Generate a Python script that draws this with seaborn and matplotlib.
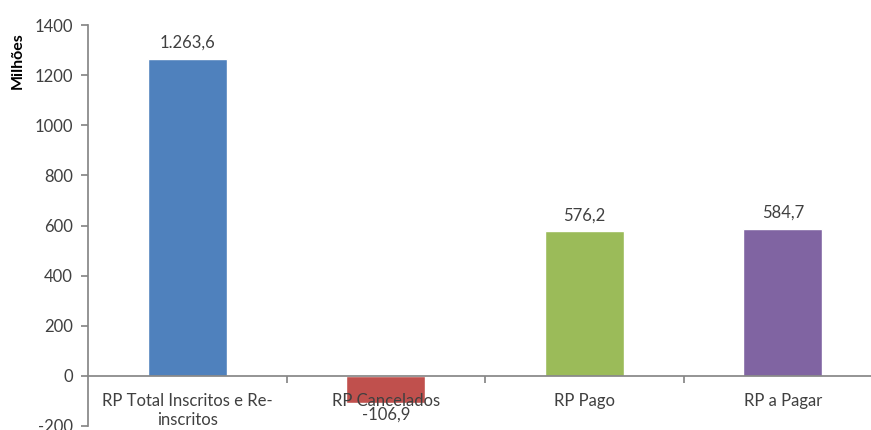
import matplotlib
matplotlib.use("Agg")
import matplotlib.pyplot as plt
import seaborn as sns
import pandas as pd

categories = ["RP Total Inscritos e Re-\ninscritos", "RP Cancelados", "RP Pago", "RP a Pagar"]
values = [1263.6, -106.9, 576.2, 584.7]
colors = ["#4F81BD", "#C0504D", "#9BBB59", "#8064A2"]
yticks = [-200, 0, 200, 400, 600, 800, 1000, 1200, 1400]

sns.set_theme(style="white")
plt.rcParams["font.family"] = ["Lato", "DejaVu Sans"]
text_color = "#404040"
axis_color = "#868686"
fs = 12

df = pd.DataFrame({"categoria": categories, "valor": values})

fig = plt.figure(figsize=(8.71, 4.30), dpi=100)
ax = fig.add_axes([88 / 871, 4 / 430, 794 / 871, 401 / 430])

sns.barplot(data=df, x="categoria", y="valor", hue="categoria", palette=colors,
            width=0.4, legend=False, ax=ax, saturation=1)

ax.set_axisbelow(False)
ax.set_xlim(-0.5, 3.5)
ax.set_ylim(-200, 1400)
ax.set_yticks(yticks)
ax.set_yticklabels([str(t) for t in yticks], fontsize=fs, color=text_color)
ax.tick_params(axis="y", direction="out", length=5, color=axis_color, left=True, pad=6)

# x axis sits on the zero line; category labels under it, separators as major ticks
ax.spines["bottom"].set_position(("data", 0))
ax.spines["bottom"].set_color(axis_color)
ax.spines["left"].set_color(axis_color)
ax.spines["top"].set_visible(False)
ax.spines["right"].set_visible(False)

ax.set_xticks([0.5, 1.5, 2.5, 3.5])
ax.set_xticklabels([])
ax.set_xticks(range(len(categories)), minor=True)
ax.set_xticklabels(categories, minor=True, fontsize=fs, color=text_color, linespacing=1.25)
ax.tick_params(axis="x", which="major", direction="out", length=5, color=axis_color, bottom=True)
ax.tick_params(axis="x", which="minor", length=0, pad=12)

ax.set_xlabel("")
ax.set_ylabel("Milhões", fontsize=11.5, fontweight="bold", color="black")
ax.yaxis.set_label_coords(-0.08, 0.91)


def br(v):
    s = f"{v:,.1f}"
    return s.replace(",", "X").replace(".", ",").replace("X", ".")


for i, v in enumerate(values):
    if v >= 0:
        ax.annotate(br(v), (i, v), xytext=(0, 6), textcoords="offset points",
                    ha="center", va="bottom", fontsize=fs, color=text_color, zorder=5)
    else:
        ax.annotate(br(v), (i, v), xytext=(0, -3), textcoords="offset points",
                    ha="center", va="top", fontsize=fs, color=text_color, zorder=5)

fig.savefig("out.png", dpi=100)
